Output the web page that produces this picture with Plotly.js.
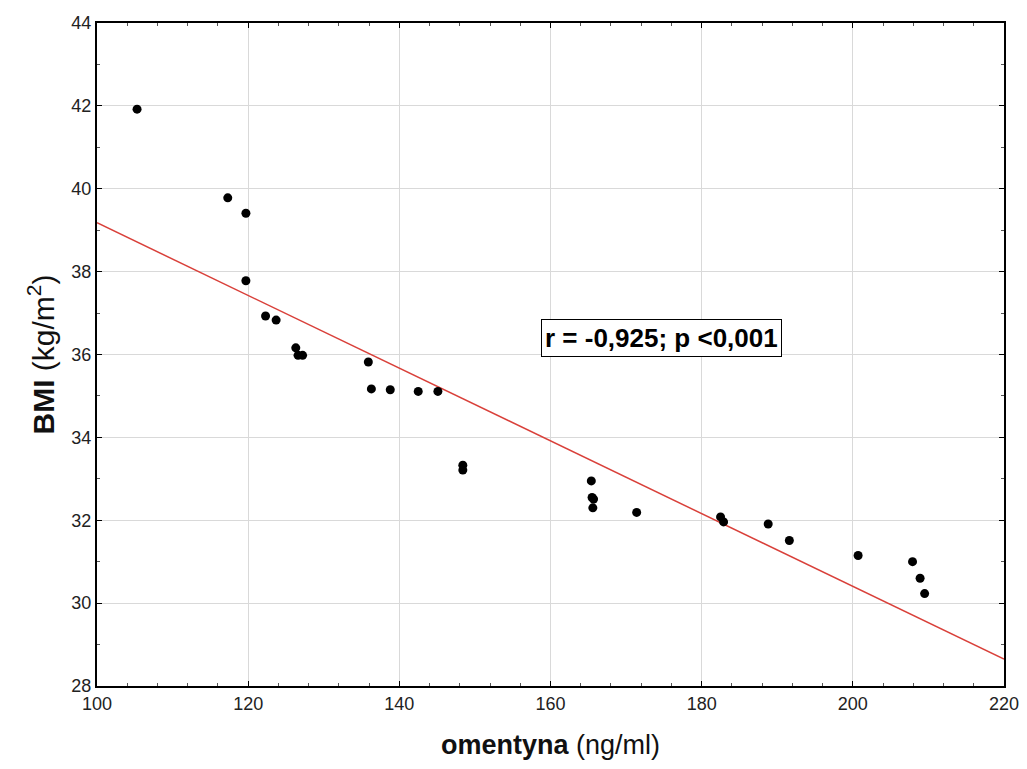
<!DOCTYPE html>
<html>
<head>
<meta charset="utf-8">
<script src="https://cdn.plot.ly/plotly-3.0.1.min.js"></script>
<style>html,body{margin:0;padding:0;background:#fff;}#chart{width:1027px;height:769px;}</style>
</head>
<body>
<div id="chart"></div>
<script>
// Scatter data
const omentyna = [105.3, 117.3, 119.7, 119.7, 122.3, 123.7, 126.3, 126.6, 127.2,
  135.9, 136.3, 138.8, 142.5, 145.1, 148.4, 148.4,
  165.4, 165.5, 165.7, 165.6, 171.4, 182.5, 182.9, 188.8,
  191.6, 200.7, 207.9, 208.9, 209.5];
const bmi = [41.92, 39.78, 39.41, 37.78, 36.93, 36.83, 36.16, 35.98, 35.98,
  35.82, 35.17, 35.15, 35.11, 35.11, 33.33, 33.21,
  32.95, 32.55, 32.51, 32.30, 32.19, 32.08, 31.96, 31.91,
  31.51, 31.15, 31.00, 30.60, 30.23];
// Regression line end points
const fitX = [100, 220];
const fitY = [39.18, 28.65];
const xTicks = [100, 120, 140, 160, 180, 200, 220];
const yTicks = [28, 30, 32, 34, 36, 38, 40, 42, 44];
const statLabel = "r = -0,925; p <0,001";

const tickFont = {family: "'Liberation Sans Narrow', 'Liberation Sans', Arial, sans-serif", size: 18, color: '#222'};

const data = [
  {x: fitX, y: fitY, type: 'scatter', mode: 'lines', line: {color: '#d9403a', width: 1.5}, hoverinfo: 'skip'},
  {x: omentyna, y: bmi, type: 'scatter', mode: 'markers', marker: {color: '#000', size: 9}}
];

const layout = {
  width: 1027, height: 769,
  margin: {l: 97, r: 23, t: 23, b: 83},
  paper_bgcolor: '#fff', plot_bgcolor: '#fff',
  showlegend: false,
  xaxis: {
    range: [100, 220], tickvals: xTicks, ticktext: xTicks.map(String),
    showgrid: true, gridcolor: '#d9d9d9', gridwidth: 1, zeroline: false,
    showline: true, linecolor: '#000', linewidth: 2, mirror: 'ticks',
    ticks: 'inside', ticklen: 5, tickcolor: '#000', tickwidth: 1,
    minor: {dtick: 4, tick0: 100, ticks: 'inside', ticklen: 3, tickcolor: '#555', showgrid: false},
    tickfont: tickFont,
    title: {text: '<b>omentyna</b> (ng/ml)', font: {family: "'Liberation Sans', Arial, sans-serif", size: 27, color: '#111'}, standoff: 23}
  },
  yaxis: {
    range: [28, 44], tickvals: yTicks, ticktext: yTicks.map(String),
    showgrid: true, gridcolor: '#d9d9d9', gridwidth: 1, zeroline: false,
    showline: true, linecolor: '#000', linewidth: 2, mirror: 'ticks',
    ticks: 'inside', ticklen: 5, tickcolor: '#000', tickwidth: 1,
    minor: {dtick: 1, tick0: 28, ticks: 'inside', ticklen: 3, tickcolor: '#555', showgrid: false},
    tickfont: tickFont,
    title: {text: '<b>BMI</b> (kg/m<sup>2</sup>)', font: {family: "'Liberation Sans', Arial, sans-serif", size: 30, color: '#111'}, standoff: 8}
  },
  annotations: [{
    x: 174.7, y: 36.41, xref: 'x', yref: 'y', showarrow: false,
    text: '<b>' + statLabel + '</b>',
    font: {family: "'Liberation Sans', Arial, sans-serif", size: 26, color: '#000'},
    bgcolor: '#fff', bordercolor: '#000', borderwidth: 1, borderpad: 3
  }]
};

Plotly.newPlot('chart', data, layout, {displayModeBar: false, staticPlot: true});
</script>
</body>
</html>
